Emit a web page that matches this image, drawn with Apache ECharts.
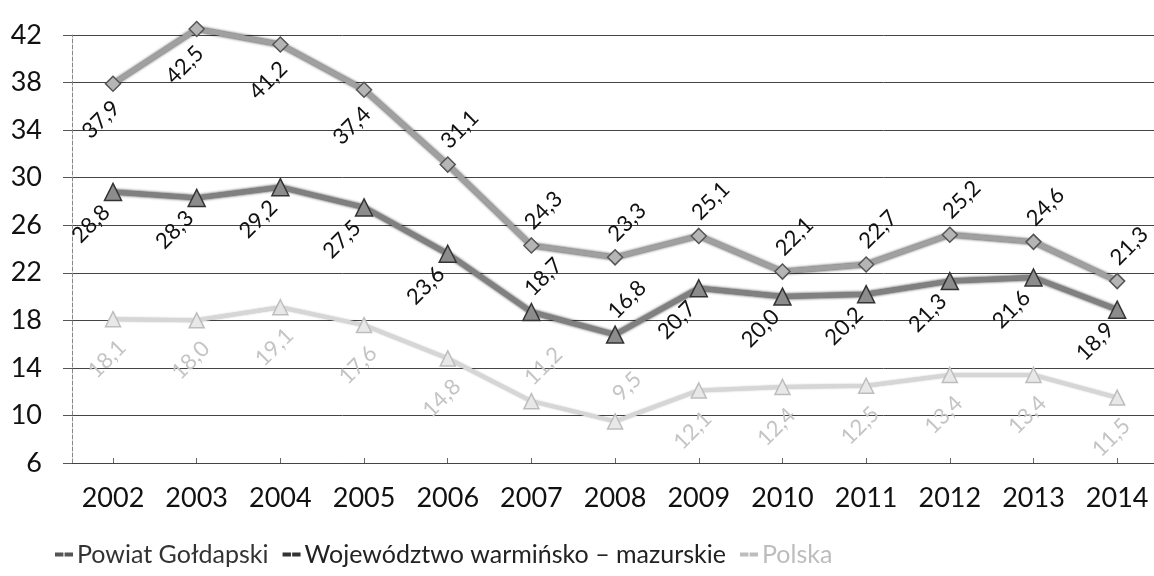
<!DOCTYPE html>
<html>
<head>
<meta charset="utf-8">
<script src="https://cdn.jsdelivr.net/npm/echarts@6/dist/echarts.min.js"></script>
<style>
html,body{margin:0;padding:0;background:#fff;}
#chart{width:1154px;height:576px;}
</style>
</head>
<body>
<div id="chart"></div>
<script>
const years = [2002, 2003, 2004, 2005, 2006, 2007, 2008, 2009, 2010, 2011, 2012, 2013, 2014];
const powiat = [37.9, 42.5, 41.2, 37.4, 31.1, 24.3, 23.3, 25.1, 22.1, 22.7, 25.2, 24.6, 21.3];
const wojewodztwo = [28.8, 28.3, 29.2, 27.5, 23.6, 18.7, 16.8, 20.7, 20.0, 20.2, 21.3, 21.6, 18.9];
const polska = [18.1, 18.0, 19.1, 17.6, 14.8, 11.2, 9.5, 12.1, 12.4, 12.5, 13.4, 13.4, 11.5];
const yTicks = [6, 10, 14, 18, 22, 26, 30, 34, 38, 42];
const seriesNames = ['Powiat Gołdapski', 'Województwo warmińsko – mazurskie', 'Polska'];

// label placement (style only): 'a' = above, 'b' = below
const posPowiat = ['b','b','b','b','a','a','a','a','a','a','a','a','a'];
const posWoj    = ['b','b','b','b','b','a','a','b','b','b','b','b','b'];
const posPolska = ['b','b','b','b','b','a','a','b','b','b','b','b','b'];
const ROT = 45;
// desired screen offsets of label centre from point
const SCR_ABOVE = [12, -35];

// ECharts applies the label offset in the rotated frame: convert screen -> local
function toLocal(o) {
  const a = ROT * Math.PI / 180, c = Math.cos(a), s = Math.sin(a);
  return [o[0] * c - o[1] * s, o[0] * s + o[1] * c];
}

const fmt = v => v.toFixed(1).replace('.', ',');
function build(vals, pos, below) {
  const A = toLocal(SCR_ABOVE), B = toLocal(below);
  return years.map((y, i) => ({
    value: [y, vals[i]],
    label: { offset: pos[i] === 'a' ? A : B }
  }));
}

const FONT = 'Lato, "Open Sans", sans-serif';
const chart = echarts.init(document.getElementById('chart'));

function labelCfg(color) {
  return {
    show: true, position: 'inside', rotate: ROT,
    align: 'center', verticalAlign: 'middle',
    fontFamily: FONT, fontSize: 22, color: color,
    formatter: p => fmt(p.value[1])
  };
}

chart.setOption({
  backgroundColor: '#fff',
  animation: false,
  grid: { left: 72, right: 0, top: 35, bottom: 113 },
  legend: {
    left: 50, top: 537, itemGap: 14, itemWidth: 16, itemHeight: 3,
    icon: 'path://M0,0h6v2h-6z M9,0h6v2h-6z',
    textStyle: { fontFamily: FONT, fontSize: 25 },
    data: [
      { name: seriesNames[0], itemStyle: { color: '#222' }, textStyle: { color: '#333' } },
      { name: seriesNames[1], itemStyle: { color: '#222' }, textStyle: { color: '#222' } },
      { name: seriesNames[2], itemStyle: { color: '#c8c8c8' }, textStyle: { color: '#bdbdbd' } }
    ]
  },
  xAxis: {
    type: 'value', min: 2001.51, max: 2014.44,
    axisLine: { show: true, lineStyle: { color: '#444', width: 1 } },
    axisTick: { show: true, inside: true, length: 5, customValues: years, lineStyle: { color: '#666' } },
    splitLine: { show: false },
    axisLabel: {
      customValues: years, margin: 22,
      fontFamily: FONT, fontSize: 27, color: '#111',
      formatter: v => String(Math.round(v))
    }
  },
  yAxis: {
    type: 'value', min: 6, max: 42, interval: 4,
    axisLine: { show: true, lineStyle: { color: '#888', type: [4, 2], width: 1 } },
    axisTick: { show: true, length: 9, lineStyle: { color: '#555' } },
    splitLine: { show: true, lineStyle: { color: '#444', width: 1 } },
    axisLabel: {
      margin: 30, fontFamily: FONT, fontSize: 27, color: '#111',
      customValues: yTicks
    }
  },
  series: [
    {
      name: seriesNames[0], type: 'line', clip: false,
      data: build(powiat, posPowiat, [-12, 36]),
      symbol: 'diamond', symbolSize: 15,
      itemStyle: { color: '#b5b5b5', borderColor: '#555', borderWidth: 1.5 },
      lineStyle: { color: '#a0a0a0', width: 5, shadowColor: 'rgba(0,0,0,0.85)', shadowBlur: 3 },
      label: labelCfg('#111'),
      z: 3
    },
    {
      name: seriesNames[1], type: 'line', clip: false,
      data: build(wojewodztwo, posWoj, [-22, 32]),
      symbol: 'triangle', symbolSize: 17,
      itemStyle: { color: '#8c8c8c', borderColor: '#333', borderWidth: 1.5 },
      lineStyle: { color: '#808080', width: 5, shadowColor: 'rgba(0,0,0,0.9)', shadowBlur: 3 },
      label: labelCfg('#111'),
      z: 3
    },
    {
      name: seriesNames[2], type: 'line', clip: false,
      data: build(polska, posPolska, [-6, 40]),
      symbol: 'triangle', symbolSize: 15,
      itemStyle: { color: '#e8e8e8', borderColor: '#bdbdbd', borderWidth: 1.5 },
      lineStyle: { color: '#d6d6d6', width: 4, shadowColor: 'rgba(0,0,0,0.25)', shadowBlur: 2 },
      label: labelCfg('#c4c4c4'),
      z: 2
    }
  ]
});
</script>
</body>
</html>
